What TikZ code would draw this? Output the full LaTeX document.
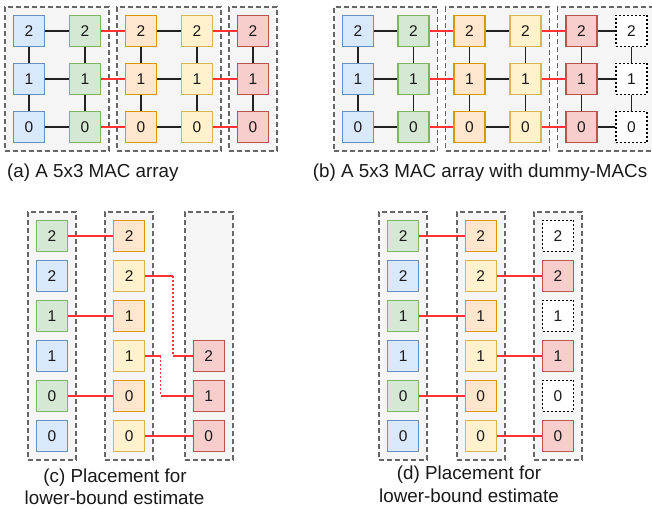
\documentclass[tikz,border=0pt]{standalone}
\usepackage{fontspec}
\setmainfont{Liberation Sans}
\begin{document}
\begin{tikzpicture}[x=1pt,y=-1pt]
\definecolor{bluef}{HTML}{DAE8FC}\definecolor{blued}{HTML}{6C8EBF}
\definecolor{greenf}{HTML}{D5E8D4}\definecolor{greend}{HTML}{82B366}
\definecolor{orangef}{HTML}{FFE6CC}\definecolor{oranged}{HTML}{D79B00}
\definecolor{yellowf}{HTML}{FFF2CC}\definecolor{yellowd}{HTML}{D6B656}
\definecolor{redf}{HTML}{F8CECC}\definecolor{redd}{HTML}{B85450}
\definecolor{grpf}{HTML}{F5F5F5}\definecolor{grpd}{HTML}{666666}
\definecolor{redline}{HTML}{FF3333}\definecolor{blkline}{HTML}{222222}
\tikzset{
  grp/.style={draw=grpd,fill=grpf,line width=1.8pt,dash pattern=on 5pt off 3pt,inner sep=0pt,minimum width=48pt,minimum height=248pt},
  mac/.style={inner sep=0pt,minimum width=31pt,minimum height=31pt,line width=1.2pt,font=\fontsize{15.5}{18}\selectfont,text=black!90},
  bluem/.style={fill=bluef,draw=blued},
  greenm/.style={fill=greenf,draw=greend},
  orangem/.style={fill=orangef,draw=oranged},
  yellowm/.style={fill=yellowf,draw=yellowd},
  redm/.style={fill=redf,draw=redd},
  dummym/.style={fill=white,draw=black,dash pattern=on 2pt off 2pt},
  blk/.style={draw=blkline,line width=1.8pt},
  redl/.style={draw=redline,line width=1.8pt},
  redot/.style={draw=redline,line width=1.8pt,dash pattern=on 2pt off 2pt},
  captxt/.style={inner sep=0pt,font=\fontsize{18.8}{22}\selectfont,text=black!90},
}
\useasboundingbox (0,0) rectangle (652,508);
\clip (0,0) rectangle (652,508);
% ---------- (a) ----------
\node[grp,minimum width=104pt,minimum height=144pt] (ga1) at (57,79) {};
\node[grp,minimum width=104pt,minimum height=144pt] (ga2) at (169,79) {};
\node[grp,minimum width=48pt,minimum height=144pt] (ga3) at (253,79) {};
\foreach \c/\x/\st in {1/29/bluem,2/85/greenm,3/141/orangem,4/197/yellowm,5/253/redm}
  \foreach \r/\y in {2/31,1/79,0/127}
    \node[mac,\st] (a\c\r) at (\x,\y) {\r};
\foreach \c in {1,...,5} {\draw[blk] (a\c2) -- (a\c1); \draw[blk] (a\c1) -- (a\c0);}
\foreach \r in {0,1,2} {
  \draw[blk] (a1\r) -- (a2\r); \draw[redl] (a2\r) -- (a3\r);
  \draw[blk] (a3\r) -- (a4\r); \draw[redl] (a4\r) -- (a5\r);}
\node[captxt,anchor=base west] (capa) at (7,177) {(a) A 5x3 MAC array};
% ---------- (b) ----------
\node[grp,minimum width=103.5pt,minimum height=144pt] (gb1) at (385.75,79) {};
\node[grp,minimum width=104pt,minimum height=144pt] (gb2) at (497.5,79) {};
\node[grp,minimum width=108pt,minimum height=144pt] (gb3) at (611.5,79) {};
\foreach \c/\x/\st in {1/358/bluem,2/413.5/greenm,3/469.5/orangem,4/525.5/yellowm,5/581.5/redm,6/631.5/dummym}
  \foreach \r/\y in {2/31,1/79,0/127}
    \node[mac,\st] (b\c\r) at (\x,\y) {\r};
\foreach \c in {1,...,6} {\draw[blk] (b\c2) -- (b\c1); \draw[blk] (b\c1) -- (b\c0);}
\foreach \r in {0,1,2} {
  \draw[blk] (b1\r) -- (b2\r); \draw[redl] (b2\r) -- (b3\r);
  \draw[blk] (b3\r) -- (b4\r); \draw[redl] (b4\r) -- (b5\r);
  \draw[blk] (b5\r) -- (b6\r);}
\node[captxt,anchor=base west] (capb) at (312.7,177) {(b) A 5x3 MAC array with dummy-MACs};
% ---------- (c) ----------
\node[grp] (gc1) at (52,335.7) {};
\node[grp] (gc2) at (129.3,335.7) {};
\node[grp] (gc3) at (208.7,335.7) {};
\foreach \k/\y/\st/\t in {0/235.7/greenm/2,1/275.7/bluem/2,2/315.7/greenm/1,3/355.7/bluem/1,4/395.7/greenm/0,5/435.7/bluem/0}
  \node[mac,\st] (c1\k) at (52,\y) {\t};
\foreach \k/\y/\st/\t in {0/235.7/orangem/2,1/275.7/yellowm/2,2/315.7/orangem/1,3/355.7/yellowm/1,4/395.7/orangem/0,5/435.7/yellowm/0}
  \node[mac,\st] (c2\k) at (129.3,\y) {\t};
\foreach \k/\y/\t in {3/355.7/2,4/395.7/1,5/435.7/0}
  \node[mac,redm] (c3\k) at (208.7,\y) {\t};
\draw[redl] (c10) -- (c20);
\draw[redl] (c12) -- (c22);
\draw[redl] (c14) -- (c24);
\coordinate (cx1a) at (173.3,275.7);
\coordinate (cx1b) at (173.3,355.7);
\coordinate (cx2a) at (160.5,355.7);
\coordinate (cx2b) at (160.5,395.7);
\draw[redl] (c21.east) -- (cx1a);
\draw[redot] (cx1a) -- (cx1b);
\draw[redl] (cx1b) -- (c33.west);
\draw[redl] (c23.east) -- (cx2a);
\draw[redot] (cx2a) -- (cx2b);
\draw[redl] (cx2b) -- (c34.west);
\draw[redl] (c25) -- (c35);
\node[captxt,anchor=base] (capc1) at (115,482) {(c) Placement for};
\node[captxt,anchor=base] (capc2) at (114.5,504) {lower-bound estimate};
% ---------- (d) ----------
\node[grp] (gd1) at (403.3,335.7) {};
\node[grp] (gd2) at (480.7,335.7) {};
\node[grp] (gd3) at (558,335.7) {};
\foreach \k/\y/\st/\t in {0/235.7/greenm/2,1/275.7/bluem/2,2/315.7/greenm/1,3/355.7/bluem/1,4/395.7/greenm/0,5/435.7/bluem/0}
  \node[mac,\st] (d1\k) at (403.3,\y) {\t};
\foreach \k/\y/\st/\t in {0/235.7/orangem/2,1/275.7/yellowm/2,2/315.7/orangem/1,3/355.7/yellowm/1,4/395.7/orangem/0,5/435.7/yellowm/0}
  \node[mac,\st] (d2\k) at (480.7,\y) {\t};
\foreach \k/\y/\st/\t in {0/235.7/dummym/2,1/275.7/redm/2,2/315.7/dummym/1,3/355.7/redm/1,4/395.7/dummym/0,5/435.7/redm/0}
  \node[mac,\st] (d3\k) at (558,\y) {\t};
\draw[redl] (d10) -- (d20);
\draw[redl] (d12) -- (d22);
\draw[redl] (d14) -- (d24);
\draw[redl] (d21) -- (d31);
\draw[redl] (d23) -- (d33);
\draw[redl] (d25) -- (d35);
\node[captxt,anchor=base] (capd1) at (469,479.5) {(d) Placement for};
\node[captxt,anchor=base] (capd2) at (469,502) {lower-bound estimate};
\end{tikzpicture}
\end{document}
